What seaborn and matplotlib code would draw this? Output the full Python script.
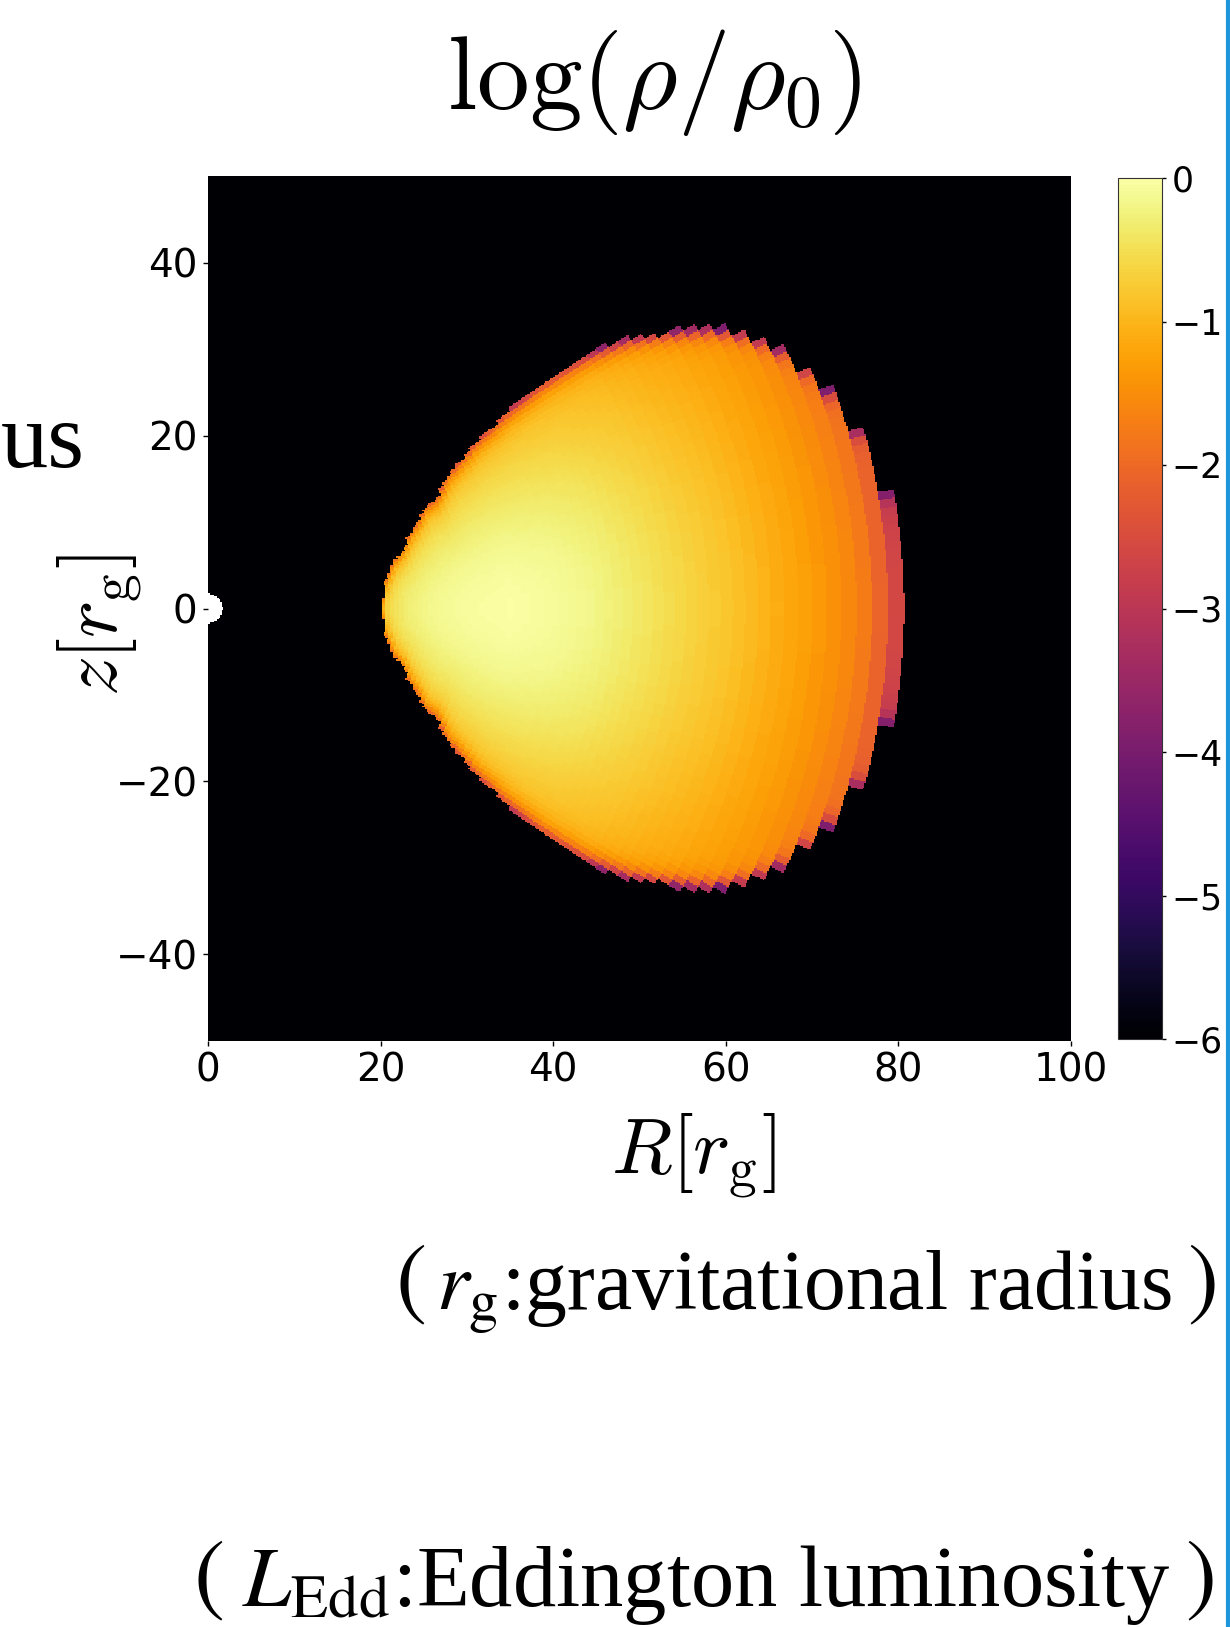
import numpy as np
import matplotlib
matplotlib.use("Agg")
import matplotlib.pyplot as plt
from matplotlib.lines import Line2D
import seaborn as sns

# ---------------- values ----------------
# torus surface in spherical coordinates: radius r [r_g] and highest angle above the equator [deg]
surface_r = [20.1, 20.8, 22.2, 23.6, 24.8, 27.7, 29.3, 31.5, 35.9, 40.9, 46.4, 52.2,
             57.2, 61.7, 66.1, 67.6, 69.3, 70.9, 72.7, 74.3, 76.3, 77.8, 79.7]
surface_alpha = [0.0, 8.7, 14.4, 16.7, 20.1, 24.7, 25.4, 28.8, 31.5, 33.2, 34.1, 33.9,
                 32.9, 31.2, 29.4, 28.5, 27.4, 26.0, 24.3, 22.0, 19.0, 15.6, 9.7]
# log density just inside the surface and on the surface rim (same radii as above)
inside_logrho = [-1.0, -0.9, -0.85, -0.85, -0.85, -0.85, -0.85, -0.9, -0.95, -1.0, -1.05, -1.1,
                 -1.2, -1.25, -1.35, -1.4, -1.45, -1.55, -1.65, -1.75, -1.9, -2.1, -2.8]
rim_logrho = [-1.8, -1.8, -1.9, -1.9, -2.0, -2.0, -2.1, -2.2, -2.4, -2.8, -3.4, -3.6,
              -3.8, -3.9, -4.0, -4.0, -4.0, -4.0, -4.0, -4.1, -4.1, -4.2, -4.3]
# log density along the equator
equator_r = [20.1, 21.0, 23.0, 26.0, 30.0, 35.0, 40.0, 45.0, 50.0, 55.0, 60.0, 65.0,
             70.0, 74.0, 77.0, 79.7]
equator_logrho = [-0.9, -0.55, -0.3, -0.15, -0.06, -0.02, -0.08, -0.2, -0.4, -0.6,
                  -0.8, -1.05, -1.3, -1.55, -1.85, -2.6]
background_logrho = -7.0
hole_radius = 1.7

x_ticks = [0, 20, 40, 60, 80, 100]
z_ticks = [40, 20, 0, -20, -40]
cbar_ticks = [0, -1, -2, -3, -4, -5, -6]

# ---------------- build the density image on the simulation grid ----------------
N = 560
R = (np.arange(N) + 0.5) * 100.0 / N
Z = 50.0 - (np.arange(N) + 0.5) * 100.0 / N
RR, ZZ = np.meshgrid(R, Z)
r = np.hypot(RR, ZZ)
theta = np.degrees(np.arctan2(RR, ZZ))          # polar angle from +z axis

ratio = 1.0238
edge0 = 79.7 / np.sqrt(ratio)
k = np.floor(np.log(r / edge0) / np.log(ratio))
rc = edge0 * ratio ** (k + 0.5)
dth = 180.0 / 256
thc = (np.floor(theta / dth) + 0.5) * dth
ac = np.abs(90.0 - thc)

amax = np.interp(rc, surface_r, surface_alpha, left=-1, right=-1)
eq = np.interp(rc, equator_r, equator_logrho)
ins = np.interp(rc, surface_r, inside_logrho)
rim = np.interp(rc, surface_r, rim_logrho)
s = np.clip(ac / np.maximum(amax, 1e-6), 0, 1)
d = np.radians(np.maximum(amax - ac, 0)) * rc
val = eq + (ins - eq) * s ** 2 + (rim - ins) * np.exp(-d / 0.8)

field = np.where(ac <= amax, val, background_logrho)
field = np.where(r < hole_radius, np.nan, field)

# ---------------- figure ----------------
W, H = 1230, 1627
fig = plt.figure(figsize=(W / 100, H / 100), dpi=100)
ax = fig.add_axes([208 / W, 1 - 1041 / H, 863 / W, 865 / H])
cax = fig.add_axes([1118 / W, 1 - 1039 / H, 44 / W, 861 / H])

sns.heatmap(field, ax=ax, cbar_ax=cax, cmap="inferno", vmin=-6, vmax=0,
            xticklabels=False, yticklabels=False, rasterized=True,
            cbar_kws={"ticks": cbar_ticks})
ax.set_facecolor("white")

ax.set_xticks([v * N / 100.0 for v in x_ticks])
ax.set_xticklabels([str(v) for v in x_ticks])
ax.set_yticks([(50 - v) * N / 100.0 for v in z_ticks])
ax.set_yticklabels([str(v).replace("-", "\u2212") for v in z_ticks])
ax.tick_params(axis="both", which="major", labelsize=28, length=3.5, width=1.0,
               direction="out", bottom=True, left=True, pad=4, colors="black")
ax.tick_params(axis="y", labelrotation=0)
ax.tick_params(axis="x", labelrotation=0)

cbar = ax.collections[0].colorbar
cbar.ax.tick_params(labelsize=25, length=3, width=1.0, pad=4)
cbar.ax.set_yticklabels([str(v).replace("-", "\u2212") for v in cbar_ticks])
cbar.outline.set_visible(True)
cbar.outline.set_linewidth(0.8)
cbar.outline.set_edgecolor("#333333")

# labels and slide text
fig.text(654 / W, 1 - 109 / H, r"$\log(\rho/\rho_0)$", fontsize=76, ha="center",
         va="baseline", math_fontfamily="cm")
fig.text(693 / W, 1 - 1173 / H, r"$R[r_\mathrm{g}]$", fontsize=57, ha="center",
         va="baseline", math_fontfamily="cm")
fig.text(100 / W, 1 - 625 / H, r"$z[r_\mathrm{g}]$", fontsize=57, ha="center",
         va="center", rotation=90, math_fontfamily="cm")
fig.text(0.5 / W, 1 - 467 / H, "us", fontsize=68, family="Liberation Serif",
         ha="left", va="baseline")

renderer = fig.canvas.get_renderer()


def paren(ch, xc, top, bottom):
    """Thin bracket whose ink spans top..bottom (pixels from the top)."""
    size = 70.0
    t = fig.text(xc / W, 0.5, "$" + ch + "$", fontsize=size, math_fontfamily="stix",
                 ha="center", va="baseline", color="black")
    bb = t.get_window_extent(renderer)
    desc = 0.5 * H - bb.y0
    scale = (bottom - top) / bb.height
    t.set_fontsize(size * scale)
    t.set_y((H - bottom + desc * scale) / H)


def slide_line(paren_left, mid_left, mid_right, paren_right, baseline, middle):
    y = 1 - baseline / H
    t2 = fig.text(mid_left / W, y, middle, fontsize=50, family="Liberation Serif",
                  math_fontfamily="stix", ha="left", va="baseline")
    bb = t2.get_window_extent(renderer)
    t2.set_fontsize(50 * (mid_right - mid_left) / bb.width)
    paren("(", paren_left, baseline - 71, baseline + 18)
    paren(")", paren_right, baseline - 71, baseline + 18)


slide_line(410, 436, 1173, 1201, 1310, "$r_\\mathrm{g}$:gravitational radius")
slide_line(208, 242, 1171, 1199, 1606, "$L_\\mathrm{Edd}$:Eddington luminosity")

fig.add_artist(Line2D([1228 / W, 1228 / W], [0, 1], transform=fig.transFigure,
                      color="#1e96dc", lw=3))

fig.savefig("out.png", dpi=100)
